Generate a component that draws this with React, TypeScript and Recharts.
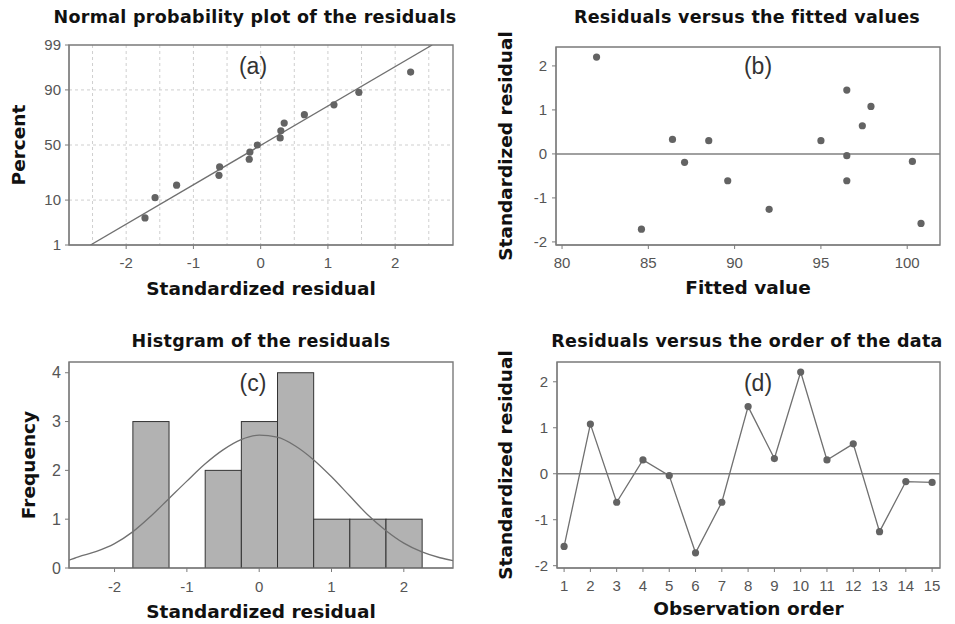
import {
  ScatterChart,
  Scatter,
  ComposedChart,
  Bar,
  Line,
  LineChart,
  XAxis,
  YAxis,
  CartesianGrid,
  ReferenceLine,
  ReferenceArea,
  Label,
} from "recharts";

// (a) normal probability plot: sorted residuals against their plotting percent
const probResidual = [-1.72, -1.57, -1.25, -0.62, -0.61, -0.17, -0.16, -0.05, 0.29, 0.3, 0.35, 0.65, 1.09, 1.46, 2.23];
const probPercent = [4.5, 11.0, 17.5, 24.0, 30.5, 37.0, 43.5, 50.0, 56.5, 63.0, 69.5, 76.0, 82.5, 89.0, 95.5];
const fitResidual = [-2.53, 2.55];
const fitPercent = [1, 99];
const percentTicks = [1, 10, 50, 90, 99];
const percentGrid = [10, 50, 90];
const residualTicks = [-2, -1, 0, 1, 2];
const residualGrid = [-2.5, -2, -1.5, -1, -0.5, 0, 0.5, 1, 1.5, 2, 2.5];

// (b) residuals versus fitted values
const fittedValue = [82.0, 84.6, 86.4, 87.1, 88.5, 89.6, 92.0, 95.0, 96.5, 96.5, 96.5, 97.4, 97.9, 100.3, 100.8];
const fittedResidual = [2.2, -1.71, 0.33, -0.19, 0.3, -0.61, -1.26, 0.3, 1.45, -0.04, -0.61, 0.64, 1.08, -0.17, -1.58];
const fittedTicks = [80, 85, 90, 95, 100];
const stdResTicks = [-2, -1, 0, 1, 2];

// (c) histogram, bins of width 0.5, with the fitted normal curve
const binCenter = [-1.5, -1.0, -0.5, 0, 0.5, 1.0, 1.5, 2.0];
const binCount = [3, 0, 2, 3, 4, 1, 1, 1];
const binWidth = 0.5;
const curveX = [-2.63, -2.5, -2.25, -2, -1.75, -1.5, -1.25, -1, -0.75, -0.5, -0.25, 0, 0.25, 0.5, 0.75, 1, 1.25, 1.5, 1.75, 2, 2.25, 2.5, 2.68];
const curveY = [0.16, 0.23, 0.34, 0.5, 0.74, 1.06, 1.42, 1.78, 2.13, 2.42, 2.63, 2.72, 2.68, 2.5, 2.22, 1.87, 1.48, 1.09, 0.77, 0.51, 0.33, 0.21, 0.15];
const freqTicks = [0, 1, 2, 3, 4];

// (d) residuals in observation order
const obsOrder = [1, 2, 3, 4, 5, 6, 7, 8, 9, 10, 11, 12, 13, 14, 15];
const obsResidual = [-1.58, 1.08, -0.62, 0.3, -0.04, -1.72, -0.62, 1.46, 0.33, 2.21, 0.3, 0.65, -1.26, -0.17, -0.19];

// inverse standard normal CDF (Acklam), used for the probability axis
function probit(p: number): number {
  const a = [-39.69683028665376, 220.9460984245205, -275.9285104469687, 138.357751867269, -30.66479806614716, 2.506628277459239];
  const b = [-54.47609879822406, 161.5858368580409, -155.6989798598866, 66.80131188771972, -13.28068155288572];
  const c = [-0.007784894002430293, -0.3223964580411365, -2.400758277161838, -2.549732539343734, 4.374664141464968, 2.938163982698783];
  const d = [0.007784695709041462, 0.3224671290700398, 2.445134137142996, 3.754408661907416];
  const lo = 0.02425;
  if (p < lo) {
    const q = Math.sqrt(-2 * Math.log(p));
    return (((((c[0] * q + c[1]) * q + c[2]) * q + c[3]) * q + c[4]) * q + c[5]) / ((((d[0] * q + d[1]) * q + d[2]) * q + d[3]) * q + 1);
  }
  if (p > 1 - lo) return -probit(1 - p);
  const q = p - 0.5;
  const r = q * q;
  return ((((((a[0] * r + a[1]) * r + a[2]) * r + a[3]) * r + a[4]) * r + a[5]) * q) / (((((b[0] * r + b[1]) * r + b[2]) * r + b[3]) * r + b[4]) * r + 1);
}
const pz = (pct: number) => probit(pct / 100);

const FONT = "'Liberation Sans', Arial, sans-serif";
const HEAD_FONT = "'DejaVu Sans', Verdana, sans-serif";
const AXIS = "#7a7a7a";
const MARK = "#636363";
const tickStyle = { fill: "#555", fontSize: 15, fontFamily: FONT };
const axisLabel = {
  fill: "#111",
  fontSize: 18.5,
  fontWeight: 700,
  fontFamily: HEAD_FONT,
  textAnchor: "middle" as const,
};

const Dot = (p: { cx?: number; cy?: number }) =>
  p.cx == null || p.cy == null ? <g /> : <circle cx={p.cx} cy={p.cy} r={3.6} fill={MARK} />;

function Title({ x, y, text }: { x: number; y: number; text: string }) {
  return (
    <div
      style={{
        position: "absolute",
        left: x,
        top: y,
        transform: "translate(-50%, -50%)",
        whiteSpace: "nowrap",
        font: `700 17.5px ${HEAD_FONT}`,
        letterSpacing: 0.3,
        lineHeight: 1,
        color: "#111",
      }}
    >
      {text}
    </div>
  );
}

function Tag({ x, y, text }: { x: number; y: number; text: string }) {
  return (
    <div
      style={{
        position: "absolute",
        left: x,
        top: y,
        transform: "translate(-50%, -50%)",
        font: `400 23px ${FONT}`,
        lineHeight: 1,
        color: "#333",
      }}
    >
      {text}
    </div>
  );
}

function ProbabilityPlot() {
  const points = probResidual.map((x, i) => ({ x, z: pz(probPercent[i]) }));
  const fit = fitResidual.map((x, i) => ({ x, z: pz(fitPercent[i]) }));
  const zTicks = percentTicks.map(pz);
  const xd: [number, number] = [-2.85, 2.86];
  const yd: [number, number] = [pz(1), pz(99)];
  return (
    <ScatterChart width={477} height={312} margin={{ top: 45, right: 24, bottom: 17, left: 0 }}>
      <CartesianGrid
        stroke="#cfcfcf"
        strokeDasharray="3 3"
        verticalValues={residualGrid}
        horizontalValues={percentGrid.map(pz)}
      />
      <XAxis
        type="number"
        dataKey="x"
        domain={xd}
        ticks={residualTicks}
        allowDataOverflow
        height={50}
        tickSize={4}
        tickMargin={8}
        tick={tickStyle}
        stroke={AXIS}
      >
        <Label value="Standardized residual" position="insideBottom" offset={0} style={axisLabel} />
      </XAxis>
      <YAxis
        type="number"
        dataKey="z"
        domain={yd}
        ticks={zTicks}
        allowDataOverflow
        width={69}
        tickSize={4}
        tickMargin={4}
        tick={tickStyle}
        tickFormatter={(_v: number, i: number) => String(percentTicks[i])}
        stroke={AXIS}
      >
        <Label value="Percent" angle={-90} position="insideLeft" offset={18} style={axisLabel} />
      </YAxis>
      <ReferenceArea x1={xd[0]} x2={xd[1]} y1={yd[0]} y2={yd[1]} fill="none" stroke={AXIS} strokeWidth={1.4} ifOverflow="visible" />
      <Scatter data={fit} line={{ stroke: "#707070", strokeWidth: 1.3 }} shape={() => <g />} isAnimationActive={false} />
      <Scatter data={points} shape={Dot} isAnimationActive={false} />
    </ScatterChart>
  );
}

function FittedPlot() {
  const points = fittedValue.map((x, i) => ({ x, y: fittedResidual[i] }));
  const xd: [number, number] = [79.65, 101.9];
  const yd: [number, number] = [-2.07, 2.43];
  return (
    <ScatterChart width={478} height={312} margin={{ top: 47, right: 15, bottom: 18, left: 0 }}>
      <XAxis
        type="number"
        dataKey="x"
        domain={xd}
        ticks={fittedTicks}
        allowDataOverflow
        height={49}
        tickSize={4}
        tickMargin={8}
        tick={tickStyle}
        stroke={AXIS}
      >
        <Label value="Fitted value" position="insideBottom" offset={0} style={axisLabel} />
      </XAxis>
      <YAxis
        type="number"
        dataKey="y"
        domain={yd}
        ticks={stdResTicks}
        allowDataOverflow
        width={79}
        tickSize={4}
        tickMargin={5}
        tick={tickStyle}
        stroke={AXIS}
      >
        <Label value="Standardized residual" angle={-90} position="insideLeft" offset={28} style={axisLabel} />
      </YAxis>
      <ReferenceArea x1={xd[0]} x2={xd[1]} y1={yd[0]} y2={yd[1]} fill="none" stroke={AXIS} strokeWidth={1.4} ifOverflow="visible" />
      <ReferenceLine y={0} stroke="#808080" strokeWidth={1.5} />
      <Scatter data={points} shape={Dot} isAnimationActive={false} />
    </ScatterChart>
  );
}

function Histogram() {
  const bins = binCenter.map((x, i) => ({ x, count: binCount[i] }));
  const curve = curveX.map((x, i) => ({ x, y: curveY[i] }));
  const xd: [number, number] = [-2.63, 2.68];
  const yd: [number, number] = [0, 4.22];
  const width = 477;
  const margin = { top: 50, right: 24, bottom: 6, left: 0 };
  const yAxisWidth = 69;
  const plotWidth = width - margin.left - margin.right - yAxisWidth;
  const binPx = (plotWidth / (xd[1] - xd[0])) * binWidth;

  // each bar is centred on its bin centre and spans the full bin width
  const BinRect = (p: { x?: number; y?: number; width?: number; height?: number }) => {
    if (p.x == null || p.y == null || p.width == null || p.height == null) return <g />;
    const cx = p.x + p.width / 2;
    return (
      <rect x={cx - binPx / 2} y={p.y} width={binPx} height={p.height} fill="#b2b2b2" stroke="#333" strokeWidth={1} />
    );
  };

  return (
    <ComposedChart width={width} height={312} margin={margin} data={bins}>
      <XAxis
        type="number"
        dataKey="x"
        domain={xd}
        ticks={residualTicks}
        allowDataOverflow
        height={50}
        tickSize={4}
        tickMargin={9}
        tick={tickStyle}
        stroke={AXIS}
      >
        <Label value="Standardized residual" position="insideBottom" offset={0} style={axisLabel} />
      </XAxis>
      <YAxis
        type="number"
        domain={yd}
        ticks={freqTicks}
        allowDataOverflow
        width={yAxisWidth}
        tickSize={4}
        tickMargin={4}
        tick={{ ...tickStyle, fontSize: 16 }}
        stroke={AXIS}
      >
        <Label value="Frequency" angle={-90} position="insideLeft" offset={28} style={axisLabel} />
      </YAxis>
      <ReferenceArea x1={xd[0]} x2={xd[1]} y1={yd[0]} y2={yd[1]} fill="none" stroke={AXIS} strokeWidth={1.4} ifOverflow="visible" />
      <Bar dataKey="count" shape={BinRect} isAnimationActive={false} />
      <Line
        data={curve}
        dataKey="y"
        type="monotone"
        stroke="#707070"
        strokeWidth={1.3}
        dot={false}
        activeDot={false}
        isAnimationActive={false}
      />
    </ComposedChart>
  );
}

function OrderPlot() {
  const points = obsOrder.map((x, i) => ({ x, y: obsResidual[i] }));
  const xd: [number, number] = [0.73, 15.3];
  const yd: [number, number] = [-2.05, 2.43];
  return (
    <LineChart width={478} height={312} margin={{ top: 50, right: 15, bottom: 9, left: 0 }} data={points}>
      <XAxis
        type="number"
        dataKey="x"
        domain={xd}
        ticks={obsOrder}
        allowDataOverflow
        height={47}
        tickSize={4}
        tickMargin={8}
        tick={tickStyle}
        stroke={AXIS}
      >
        <Label value="Observation order" position="insideBottom" offset={0} style={axisLabel} />
      </XAxis>
      <YAxis
        type="number"
        domain={yd}
        ticks={stdResTicks}
        allowDataOverflow
        width={80}
        tickSize={4}
        tickMargin={5}
        tick={tickStyle}
        stroke={AXIS}
      >
        <Label value="Standardized residual" angle={-90} position="insideLeft" offset={28} style={axisLabel} />
      </YAxis>
      <ReferenceArea x1={xd[0]} x2={xd[1]} y1={yd[0]} y2={yd[1]} fill="none" stroke={AXIS} strokeWidth={1.4} ifOverflow="visible" />
      <ReferenceLine y={0} stroke="#808080" strokeWidth={1.5} />
      <Line
        dataKey="y"
        type="linear"
        stroke="#707070"
        strokeWidth={1.3}
        dot={{ r: 3.6, fill: MARK, stroke: "none" }}
        activeDot={false}
        isAnimationActive={false}
      />
    </LineChart>
  );
}

export default function App() {
  const cell = (left: number, top: number) => ({ position: "absolute" as const, left, top });
  return (
    <div style={{ position: "absolute", left: 0, top: 0, width: 955, height: 624, background: "#fff", overflow: "hidden" }}>
      <div style={cell(0, 0)}>
        <ProbabilityPlot />
      </div>
      <div style={cell(477, 0)}>
        <FittedPlot />
      </div>
      <div style={cell(0, 312)}>
        <Histogram />
      </div>
      <div style={cell(477, 312)}>
        <OrderPlot />
      </div>
      <Title x={255} y={18} text="Normal probability plot of the residuals" />
      <Title x={747} y={18} text="Residuals versus the fitted values" />
      <Title x={261} y={342} text="Histgram of the residuals" />
      <Title x={747} y={342} text="Residuals versus the order of the data" />
      <Tag x={253} y={66} text="(a)" />
      <Tag x={758} y={66} text="(b)" />
      <Tag x={253} y={383} text="(c)" />
      <Tag x={758} y={383} text="(d)" />
    </div>
  );
}
